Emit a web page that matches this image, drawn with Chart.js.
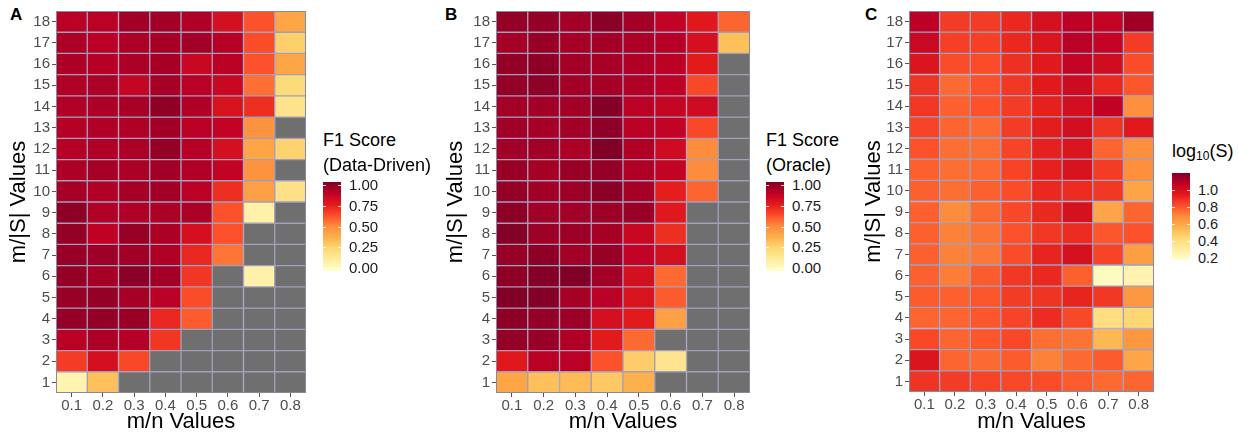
<!DOCTYPE html>
<html>
<head>
<meta charset="utf-8">
<script src="https://cdn.jsdelivr.net/npm/chart.js@4.4.0/dist/chart.umd.min.js"></script>
<style>
  body { margin: 0; background: #fff; width: 1239px; height: 435px; position: relative; overflow: hidden;
         font-family: "Liberation Sans", Arial, sans-serif; }
  canvas { position: absolute; top: 0; }
  .tag { position: absolute; top: 5px; font-weight: bold; font-size: 17px; color: #000; }
  .legTitle { position: absolute; font-size: 18px; color: #000; white-space: nowrap; line-height: 20px; }
  .legTitle sub { font-size: 12px; vertical-align: -3px; }
  .bar { position: absolute; width: 18px; }
  .lab { position: absolute; color: #1a1a1a; line-height: 16px; }
  .tk { position: absolute; width: 3px; height: 1px; background: rgba(255,255,255,0.8); }
</style>
</head>
<body>
<div class="tag" style="left:10px">A</div>
<div class="tag" style="left:445px">B</div>
<div class="tag" style="left:865px">C</div>

<canvas id="chartA" width="320" height="435" style="left:0px"></canvas>
<canvas id="chartB" width="340" height="435" style="left:420px"></canvas>
<canvas id="chartC" width="330" height="435" style="left:840px"></canvas>

<div id="legends"></div>

<script>
// x categories and y rows
const mnLabels = ['0.1', '0.2', '0.3', '0.4', '0.5', '0.6', '0.7', '0.8'];
const rowLabels = [18, 17, 16, 15, 14, 13, 12, 11, 10, 9, 8, 7, 6, 5, 4, 3, 2, 1];

// A: F1 score (data-driven), rows listed top (18) to bottom (1), null = not available
const f1DataDriven = [
  [0.88, 0.88, 0.93, 0.93, 0.90, 0.80, 0.62, 0.42],
  [0.91, 0.88, 0.91, 0.92, 0.93, 0.89, 0.63, 0.28],
  [0.91, 0.89, 0.91, 0.92, 0.84, 0.88, 0.62, 0.42],
  [0.90, 0.91, 0.85, 0.92, 0.88, 0.84, 0.56, 0.24],
  [0.90, 0.91, 0.92, 0.97, 0.90, 0.79, 0.70, 0.19],
  [0.89, 0.90, 0.90, 0.93, 0.88, 0.86, 0.48, null],
  [0.89, 0.90, 0.91, 0.96, 0.89, 0.80, 0.42, 0.27],
  [0.91, 0.92, 0.91, 0.93, 0.90, 0.86, 0.48, null],
  [0.92, 0.90, 0.92, 0.93, 0.88, 0.70, 0.44, 0.20],
  [0.97, 0.90, 0.90, 0.91, 0.91, 0.62, 0.10, null],
  [0.96, 0.87, 0.95, 0.91, 0.80, 0.62, null, null],
  [0.95, 0.94, 0.93, 0.90, 0.72, 0.55, null, null],
  [0.96, 0.92, 0.98, 0.93, 0.68, null, 0.10, null],
  [0.95, 0.96, 0.92, 0.88, 0.63, null, null, null],
  [0.96, 0.96, 0.95, 0.72, 0.60, null, null, null],
  [0.88, 0.91, 0.89, 0.68, null, null, null, null],
  [0.67, 0.80, 0.64, null, null, null, null, null],
  [0.08, 0.33, null, null, null, null, null, null]
];

// B: F1 score (oracle)
const f1Oracle = [
  [0.96, 0.96, 0.93, 0.98, 0.93, 0.86, 0.76, 0.58],
  [0.92, 0.95, 0.92, 0.93, 0.91, 0.89, 0.80, 0.33],
  [0.96, 0.97, 0.93, 0.92, 0.90, 0.88, 0.75, null],
  [0.96, 0.97, 0.93, 0.92, 0.90, 0.87, 0.64, null],
  [0.93, 0.93, 0.93, 0.99, 0.88, 0.85, 0.82, null],
  [0.93, 0.92, 0.93, 0.97, 0.88, 0.86, 0.64, null],
  [0.93, 0.93, 0.91, 1.00, 0.90, 0.82, 0.50, null],
  [0.95, 0.92, 0.95, 0.96, 0.90, 0.86, 0.50, null],
  [0.96, 0.93, 0.94, 0.98, 0.92, 0.74, 0.58, null],
  [0.97, 0.93, 0.93, 0.94, 0.95, 0.76, null, null],
  [0.99, 0.94, 0.94, 0.92, 0.84, 0.70, null, null],
  [0.95, 0.97, 0.93, 0.95, 0.86, 0.80, null, null],
  [0.97, 0.99, 1.00, 0.93, 0.80, 0.57, null, null],
  [1.00, 0.99, 0.92, 0.88, 0.78, 0.60, null, null],
  [0.97, 0.96, 0.94, 0.80, 0.75, 0.44, null, null],
  [0.96, 0.95, 0.90, 0.75, 0.57, null, null, null],
  [0.76, 0.88, 0.88, 0.62, 0.29, 0.18, null, null],
  [0.42, 0.33, 0.35, 0.30, 0.38, null, null, null]
];

// C: log10(S)
const log10S = [
  [1.07, 0.86, 0.86, 0.91, 0.99, 1.07, 1.05, 1.13],
  [1.03, 0.85, 0.85, 0.91, 0.97, 1.08, 1.05, 0.86],
  [0.97, 0.82, 0.82, 0.89, 0.95, 1.05, 1.01, 0.82],
  [0.88, 0.76, 0.81, 0.87, 0.95, 1.02, 0.91, 0.80],
  [0.87, 0.78, 0.81, 0.86, 0.93, 1.00, 1.06, 0.68],
  [0.84, 0.77, 0.76, 0.86, 0.94, 1.00, 0.88, 0.95],
  [0.81, 0.75, 0.75, 0.84, 0.93, 0.97, 0.77, 0.68],
  [0.78, 0.75, 0.76, 0.84, 0.93, 0.98, 0.86, 0.68],
  [0.78, 0.75, 0.78, 0.82, 0.91, 0.90, 0.87, 0.61],
  [0.78, 0.69, 0.76, 0.83, 0.91, 0.99, 0.60, 0.77],
  [0.78, 0.71, 0.74, 0.81, 0.87, 0.90, 0.80, 0.81],
  [0.78, 0.71, 0.73, 0.82, 0.92, 0.99, 0.84, 0.63],
  [0.78, 0.72, 0.79, 0.87, 0.91, 0.78, 0.21, 0.26],
  [0.79, 0.78, 0.80, 0.86, 0.88, 0.92, 0.87, 0.65],
  [0.77, 0.77, 0.80, 0.84, 0.90, 0.83, 0.40, 0.44],
  [0.83, 0.77, 0.80, 0.83, 0.75, 0.74, 0.54, 0.65],
  [0.97, 0.77, 0.76, 0.79, 0.71, 0.76, 0.79, 0.60],
  [0.88, 0.86, 0.84, 0.83, 0.82, 0.79, 0.76, 0.77]
];

const f1Ticks = ['1.00', '0.75', '0.50', '0.25', '0.00'];
const logTicks = ['1.0', '0.8', '0.6', '0.4', '0.2'];

const ylorrd = ['#FFFFCC', '#FFEDA0', '#FED976', '#FEB24C', '#FD8D3C', '#FC4E2A', '#E31A1C', '#BD0026', '#800026'];
const naColor = '#6f6f6f';
const cellLine = '#a39fbc';

Chart.defaults.font.family = '"Liberation Sans", Arial, sans-serif';

function hexRgb(h) {
  return [parseInt(h.slice(1, 3), 16), parseInt(h.slice(3, 5), 16), parseInt(h.slice(5, 7), 16)];
}

function fillColor(v, lo, hi) {
  if (v === null) return naColor;
  let t = Math.min(1, Math.max(0, (v - lo) / (hi - lo))) * (ylorrd.length - 1);
  const i = Math.min(ylorrd.length - 2, Math.floor(t));
  const f = t - i;
  const a = hexRgb(ylorrd[i]), b = hexRgb(ylorrd[i + 1]);
  const c = a.map((x, k) => Math.round(x + (b[k] - x) * f));
  return `rgb(${c[0]},${c[1]},${c[2]})`;
}

const frame = {
  id: 'frame',
  afterDatasetsDraw(chart) {
    const a = chart.chartArea, ctx = chart.ctx;
    ctx.save();
    ctx.strokeStyle = '#8b889c';
    ctx.lineWidth = 1;
    ctx.strokeRect(a.left + 0.5, a.top + 0.5, a.right - a.left - 1, a.bottom - a.top - 1);
    ctx.restore();
  }
};

function heatmap(id, values, lo, hi, geom) {
  const datasets = values.map((row, i) => {
    const r = rowLabels[i];
    return {
      data: row.map(() => [r - 0.5, r + 0.5]),
      backgroundColor: row.map(v => fillColor(v, lo, hi)),
      borderColor: cellLine,
      borderWidth: 1,
      borderSkipped: false,
      barPercentage: 1,
      categoryPercentage: 1,
      grouped: false
    };
  });

  new Chart(document.getElementById(id), {
    type: 'bar',
    data: { labels: mnLabels, datasets: datasets },
    options: {
      responsive: false,
      animation: false,
      layout: { padding: { top: 7, right: geom.right, left: 0, bottom: 0 } },
      plugins: { legend: { display: false }, tooltip: { enabled: false } },
      scales: {
        x: {
          grid: { drawOnChartArea: false, offset: false, tickLength: 4, color: '#555' },
          border: { display: false },
          ticks: { font: { size: 15 }, color: '#4d4d4d', padding: 0, maxRotation: 0 },
          title: { display: true, text: 'm/n Values', font: { size: 22 }, color: '#000', padding: 0 },
          afterFit(s) { s.height = geom.xh; }
        },
        y: {
          min: 0.5,
          max: 18.5,
          afterBuildTicks(s) { s.ticks = rowLabels.map(v => ({ value: v })); },
          grid: { drawOnChartArea: false, tickLength: 4, color: '#555' },
          border: { display: false },
          ticks: { font: { size: 15 }, color: '#4d4d4d', padding: 2, autoSkip: false,
                   callback: v => String(v) },
          title: { display: true, text: 'm/|S| Values', font: { size: 22 }, color: '#000',
                   padding: { top: geom.titlePad, bottom: 0 } },
          afterFit(s) { s.width = geom.yw; }
        }
      }
    },
    plugins: [frame]
  });
}

heatmap('chartA', f1DataDriven, 0, 1, { yw: 56, right: 14, xh: 42, titlePad: 6 });
heatmap('chartB', f1Oracle, 0, 1, { yw: 76, right: 10, xh: 42, titlePad: 23 });
heatmap('chartC', log10S, 0.176, 1.2, { yw: 69, right: 16, xh: 43, titlePad: 21 });

// colour bar legends
function legend(left, titleHtml, titleTop, barTop, barH, labels, labelY0, labelStep, labelSize) {
  const box = document.getElementById('legends');
  let html = '';
  titleHtml.forEach((t, i) => {
    html += `<div class="legTitle" style="left:${left}px;top:${titleTop[i]}px">${t}</div>`;
  });
  html += `<div class="bar" style="left:${left}px;top:${barTop}px;height:${barH}px;` +
          `background:linear-gradient(to top,${ylorrd.join(',')})"></div>`;
  labels.forEach((l, i) => {
    const y = labelY0 + i * labelStep;
    html += `<div class="lab" style="left:${left + 26}px;top:${y - 8}px;font-size:${labelSize}px">${l}</div>`;
    html += `<div class="tk" style="left:${left}px;top:${y}px"></div>`;
    html += `<div class="tk" style="left:${left + 15}px;top:${y}px"></div>`;
  });
  box.innerHTML += html;
}

legend(323, ['F1 Score', '(Data-Driven)'], [130, 155], 182, 89, f1Ticks, 185, 20.75, 15);
legend(766, ['F1 Score', '(Oracle)'], [130, 155], 182, 89, f1Ticks, 185, 20.75, 15);
legend(1172, ['log<sub>10</sub>(S)'], [141], 173, 87, logTicks, 190, 17, 14.5);
</script>
</body>
</html>
